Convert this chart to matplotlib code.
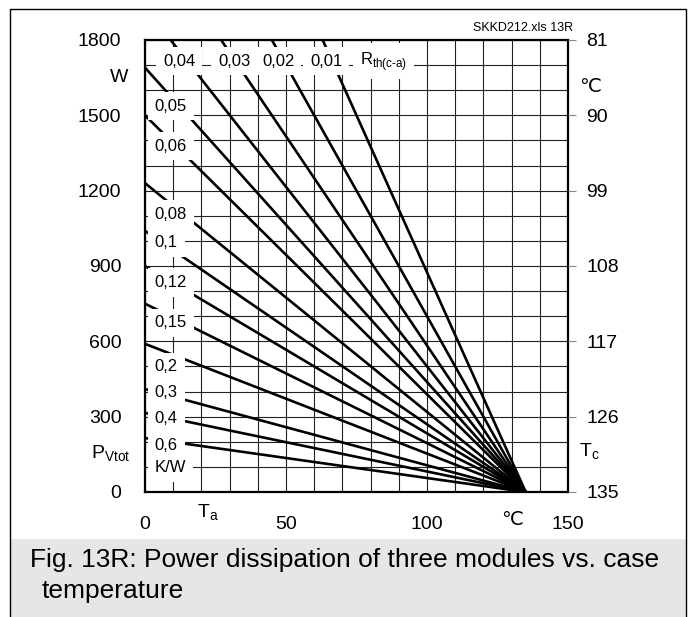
import matplotlib
matplotlib.use('Agg')
import matplotlib.pyplot as plt
from matplotlib.patches import Rectangle
from matplotlib.lines import Line2D

plt.rcParams['font.family'] = ['Liberation Sans', 'DejaVu Sans']

# thermal resistance case-ambient, K/W, and the power each line reaches at Ta = 0
RTH_LABELS = ['0,01', '0,02', '0,03', '0,04', '0,05', '0,06', '0,08',
              '0,1', '0,12', '0,15', '0,2', '0,3', '0,4', '0,6']
P_AT_TA0 = [3375, 2700, 2250, 1930, 1690, 1500, 1230,
            1040, 900, 750, 590, 410, 315, 215]
TA_MEET = 135  # all lines meet at P = 0 here

X_TICKS = [0, 50, 100, 150]
Y_TICKS = [0, 300, 600, 900, 1200, 1500, 1800]
TC_TICKS = [81, 90, 99, 108, 117, 126, 135]

# label layout (Ta, P) for the in-plot labels
TOP_LABELS = [('0,04', 6.4), ('0,03', 25.9), ('0,02', 41.5), ('0,01', 58.5)]
TOP_LABEL_P = 1716
SIDE_LABELS = [('0,05', 1536), ('0,06', 1377), ('0,08', 1105), ('0,1', 993),
               ('0,12', 834), ('0,15', 674), ('0,2', 499), ('0,3', 395),
               ('0,4', 291), ('0,6', 184), ('K/W', 96)]
SIDE_LABEL_TA = 3.5

W, H = 695, 617
fig = plt.figure(figsize=(W / 100, H / 100), dpi=100)
ax = fig.add_axes([145 / W, 1 - 492 / H, 423 / W, 452 / H])

# caption band and outer frame
fig.add_artist(Rectangle((10 / W, 0), 676 / W, 1 - 539 / H, transform=fig.transFigure,
                         facecolor='#e6e6e6', edgecolor='none', zorder=0))
fig.add_artist(Line2D([10 / W, 10 / W, 686 / W, 686 / W], [0, 1 - 9 / H, 1 - 9 / H, 0],
                      transform=fig.transFigure, color='black', lw=1.0))

for p0 in P_AT_TA0:
    ax.plot([0, TA_MEET], [p0, 0], color='black', lw=1.9, zorder=2, solid_capstyle='butt')

ax.set_xlim(0, 150)
ax.set_ylim(0, 1800)
ax.set_xticks(range(0, 151, 10))
ax.set_xticklabels([str(v) if v in X_TICKS else '' for v in range(0, 151, 10)])
ax.set_yticks(range(0, 1801, 100))
ax.set_yticklabels([str(v) if v in Y_TICKS else '' for v in range(0, 1801, 100)])
ax.grid(True, color='#222222', lw=0.8, zorder=1)
ax.set_axisbelow(True)
ax.tick_params(axis='both', length=0, labelsize=14)
ax.tick_params(axis='x', pad=17)
ax.tick_params(axis='y', pad=17)
for sp in ax.spines.values():
    sp.set_linewidth(1.6)

ax2 = ax.twinx()
ax2.set_ylim(135, 81)
ax2.set_yticks(TC_TICKS)
ax2.tick_params(axis='y', length=6, width=0.8, color='#888888', labelsize=14, pad=7)
for sp in ax2.spines.values():
    sp.set_visible(False)

box = dict(boxstyle='square,pad=0.4', facecolor='white', edgecolor='none')
for text, ta in TOP_LABELS:
    ax.text(ta, TOP_LABEL_P, text, fontsize=12, ha='left', va='center', bbox=box, zorder=4)
for text, p in SIDE_LABELS:
    ax.text(SIDE_LABEL_TA, p, text, fontsize=12, ha='left', va='center', bbox=box, zorder=4)
ax.text(76.2, TOP_LABEL_P, 'R$_{\\mathregular{th(c\u2010a)}}$', fontsize=12,
        ha='left', va='center', bbox=box, zorder=4)

# axis names
ax.text(-17 / 2.82, 1650, 'W', fontsize=14, ha='right', va='center')
ax.text(-15 / 2.82, 150, 'P$_{\\mathregular{Vtot}}$', fontsize=14, ha='right', va='center')
ax.text(154, 1610, '\u2103', fontsize=14, ha='left', va='center', clip_on=False)
ax.text(154, 160, 'T$_{\\mathregular{c}}$', fontsize=14, ha='left', va='center', clip_on=False)
ax.text(18.5, -85, 'T$_{\\mathregular{a}}$', fontsize=14, ha='left', va='center', clip_on=False)
ax.text(130, -115, '\u2103', fontsize=14, ha='center', va='center', clip_on=False)

fig.text(573 / W, 1 - 28 / H, 'SKKD212.xls 13R', fontsize=9, ha='right', va='center')
fig.text(30 / W, 1 - 567 / H, 'Fig. 13R: Power dissipation of three modules vs. case',
         fontsize=19, ha='left', va='baseline')
fig.text(42 / W, 1 - 598 / H, 'temperature', fontsize=19, ha='left', va='baseline')

fig.savefig('out.png', dpi=100)
